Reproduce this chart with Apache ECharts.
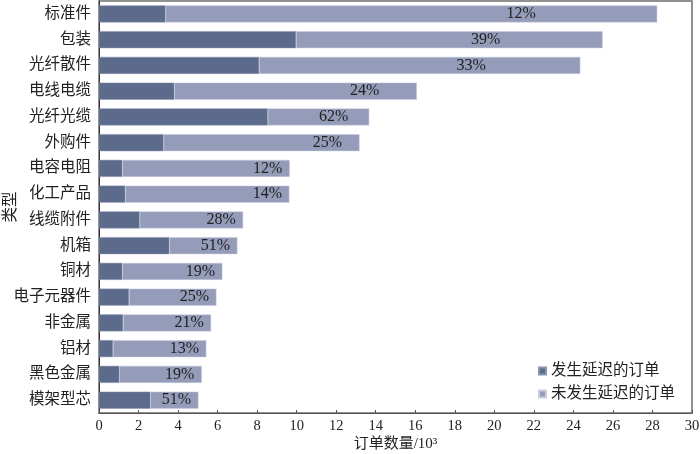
<!DOCTYPE html>
<html>
<head>
<meta charset="utf-8">
<script src="https://cdn.jsdelivr.net/npm/echarts@6/dist/echarts.min.js"></script>
<style>html,body{margin:0;padding:0;background:#fff;}#c{width:700px;height:454px;}</style>
</head>
<body>
<div id="c"></div>
<script>
const categories = ['标准件','包装','光纤散件','电线电缆','光纤光缆','外购件','电容电阻','化工产品','线缆附件','机箱','铜材','电子元器件','非金属','铝材','黑色金属','模架型芯'];
const delayed = [3.37, 9.97, 8.10, 3.81, 8.54, 3.27, 1.18, 1.33, 2.06, 3.56, 1.18, 1.52, 1.22, 0.71, 1.03, 2.60];
const notDelayed = [24.87, 15.51, 16.25, 12.27, 5.13, 9.91, 8.47, 8.30, 5.23, 3.44, 5.06, 4.42, 4.45, 4.72, 4.17, 2.43];
const pctLabels = ['12%','39%','33%','24%','62%','25%','12%','14%','28%','51%','19%','25%','21%','13%','19%','51%'];
const xTicks = {min: 0, max: 30, interval: 2};

const FONT = "'Liberation Serif', 'Noto Sans CJK SC', serif";
const chart = echarts.init(document.getElementById('c'), null, {renderer: 'canvas'});

function buildOption(pxPerUnit) {
  const lightData = notDelayed.map((v, i) => {
    const total = delayed[i] + v;
    const totalPx = total * pxPerUnit;
    const offsetPx = Math.max(22, 32 + 0.349 * (totalPx - 260));
    const centerPx = totalPx - offsetPx;
    const darkPx = delayed[i] * pxPerUnit;
    const segPx = v * pxPerUnit;
    const frac = (centerPx - darkPx) / segPx * 100;
    return {value: v, label: {position: [frac + '%', '50%']}};
  });
  return {
    animation: false,
    backgroundColor: '#fff',
    grid: {left: 99, right: 8, top: 1, bottom: 41, show: true, borderColor: '#6e6e6e', borderWidth: 1.5, containLabel: false, outerBoundsMode: 'none'},
    legend: {
      orient: 'vertical', right: 20, top: 358, itemWidth: 7, itemHeight: 7, itemGap: 7,
      icon: 'rect',
      textStyle: {fontFamily: FONT, fontSize: 15.5, color: '#222', lineHeight: 16},
      data: ['发生延迟的订单', '未发生延迟的订单']
    },
    xAxis: {
      type: 'value', min: xTicks.min, max: xTicks.max, interval: xTicks.interval,
      name: '订单数量/10³', nameLocation: 'middle', nameGap: 24, nameMoveOverlap: false,
      nameTextStyle: {fontFamily: FONT, fontSize: 15, color: '#222'},
      axisLine: {show: true, lineStyle: {color: '#555', width: 1}},
      axisTick: {show: true, inside: true, length: 3, lineStyle: {color: '#555'}},
      axisLabel: {fontFamily: FONT, fontSize: 14.5, color: '#222', margin: 6},
      splitLine: {show: false}
    },
    yAxis: {
      type: 'category', data: categories, inverse: true,
      name: '类型', nameLocation: 'middle', nameGap: 80, nameRotate: 90, nameMoveOverlap: false,
      nameTextStyle: {fontFamily: FONT, fontSize: 15.5, color: '#222'},
      axisLine: {show: true, lineStyle: {color: '#333', width: 1}},
      axisTick: {show: false},
      axisLabel: {fontFamily: FONT, fontSize: 15.5, color: '#222', margin: 8}
    },
    series: [
      {
        name: '发生延迟的订单', type: 'bar', stack: 'a', barWidth: 17,
        itemStyle: {color: '#5c6a8b', borderColor: '#8a93b0', borderWidth: 0.5},
        data: delayed
      },
      {
        name: '未发生延迟的订单', type: 'bar', stack: 'a', barWidth: 17,
        itemStyle: {color: '#959cb9', borderColor: '#c9cde0', borderWidth: 0.5},
        label: {
          show: true, align: 'center', verticalAlign: 'middle',
          fontFamily: FONT, fontSize: 16, color: '#222',
          formatter: p => pctLabels[p.dataIndex]
        },
        data: lightData
      }
    ]
  };
}

chart.setOption(buildOption((700 - 99 - 8) / 30));
const p0 = chart.convertToPixel({xAxisIndex: 0}, 0);
const p1 = chart.convertToPixel({xAxisIndex: 0}, 1);
chart.setOption(buildOption(p1 - p0));
</script>
</body>
</html>
